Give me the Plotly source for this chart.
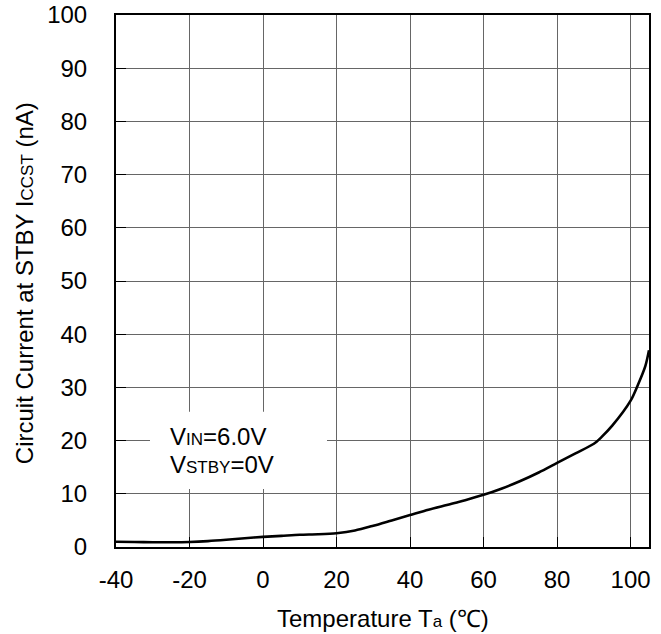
import plotly.graph_objects as go

temperature = [-40, -35, -30, -25, -20, -15, -10, -5, 0, 5, 10, 15, 20, 25, 30, 35, 40, 45, 50,
               55, 60, 65, 70, 75, 80, 85, 90, 92, 95, 100, 102, 104, 105]
current_na = [1.0, 0.95, 0.9, 0.9, 0.95, 1.1, 1.35, 1.65, 1.9, 2.1, 2.3, 2.4, 2.6, 3.1, 4.0, 5.0, 6.0,
              7.0, 7.9, 8.8, 9.8, 11.0, 12.4, 14.0, 15.8, 17.6, 19.4, 20.6, 22.8, 27.5, 30.5, 34.0, 37.0]

x_ticks = [-40, -20, 0, 20, 40, 60, 80, 100]
y_ticks = [0, 10, 20, 30, 40, 50, 60, 70, 80, 90, 100]

FONT = "Liberation Sans, Arial, sans-serif"
FS = 24
SMALL = 17
fig = go.Figure()
fig.add_trace(go.Scatter(x=temperature, y=current_na, mode="lines",
                         line=dict(color="black", width=2.6, shape="spline", smoothing=0.8),
                         showlegend=False, hoverinfo="skip"))

axis_common = dict(showline=True, linecolor="black", linewidth=2, mirror=True,
                   ticks="inside", ticklen=10, tickcolor="black", tickwidth=1,
                   showgrid=True, gridcolor="#666666", gridwidth=1, zeroline=False,
                   automargin=False,
                   tickfont=dict(family=FONT, size=FS, color="black"))

fig.update_xaxes(range=[-40, 105], tickvals=x_ticks, ticktext=[str(v) for v in x_ticks],
                 ticklabelstandoff=10, **axis_common)
fig.update_yaxes(range=[0, 100], tickvals=y_ticks, ticktext=[str(v) for v in y_ticks],
                 ticklabelstandoff=22, **axis_common)

fig.add_annotation(x=0.5, y=0, xref="paper", yref="paper", xanchor="center", yanchor="middle",
                   yshift=-71, showarrow=False,
                   text=f"Temperature T<span style='font-size:{SMALL}px'>a</span> (℃)",
                   font=dict(family=FONT, size=FS, color="black"))
fig.add_annotation(x=-0.1726, y=0.496, xref="paper", yref="paper", xanchor="center", yanchor="middle",
                   textangle=-90, showarrow=False,
                   text=f"Circuit Current at STBY I<span style='font-size:{SMALL}px'>CCST</span> (nA)",
                   font=dict(family=FONT, size=FS, color="black"))

fig.add_shape(type="rect", x0=-30.75, x1=17.4, y0=10.9, y1=25.4, xref="x", yref="y",
              fillcolor="white", line=dict(width=0), layer="above")
fig.add_annotation(x=-25.85, y=20.7, xref="x", yref="y", xanchor="left", yanchor="middle",
                   text=f"V<span style='font-size:{SMALL}px'>IN</span>=6.0V", showarrow=False,
                   font=dict(family=FONT, size=FS, color="black"))
fig.add_annotation(x=-25.85, y=15.6, xref="x", yref="y", xanchor="left", yanchor="middle",
                   text=f"V<span style='font-size:{SMALL}px'>STBY</span>=0V", showarrow=False,
                   font=dict(family=FONT, size=FS, color="black"))

fig.update_layout(width=661, height=634, margin=dict(l=116, r=12, t=15, b=87),
                  plot_bgcolor="white", paper_bgcolor="white",
                  font=dict(family=FONT, size=FS, color="black"))
fig.write_html("out.html", config={"displayModeBar": False},
               post_script="document.body.style.margin='0';")
